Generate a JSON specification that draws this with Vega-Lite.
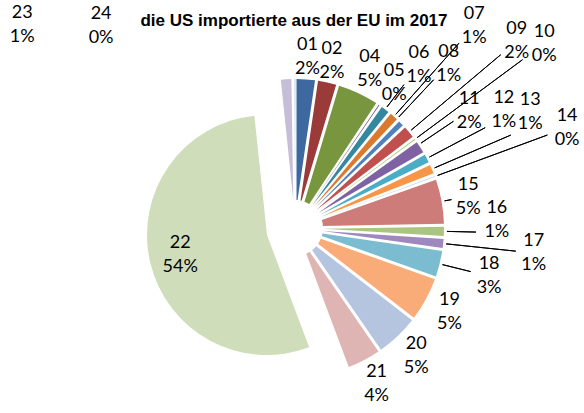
{
  "$schema": "https://vega.github.io/schema/vega-lite/v6.json",
  "width": 584,
  "height": 413,
  "autosize": "none",
  "padding": 0,
  "background": "white",
  "view": {"stroke": null},
  "config": {
    "text": {"font": "Lato", "fontSize": 18, "align": "center", "baseline": "middle", "color": "#000000"}
  },
  "title": {
    "text": "die US importierte aus der EU im 2017",
    "font": "Liberation Sans",
    "fontSize": 17,
    "fontWeight": "bold",
    "color": "#000000",
    "anchor": "middle",
    "frame": "group",
    "offset": -43,
    "baseline": "alphabetic",
    "dx": 2
  },
  "data": {
    "values": [
      {"code": 1, "share": 0.023},
      {"code": 2, "share": 0.023},
      {"code": 4, "share": 0.047},
      {"code": 5, "share": 0.004},
      {"code": 6, "share": 0.012},
      {"code": 7, "share": 0.012},
      {"code": 8, "share": 0.009},
      {"code": 9, "share": 0.016},
      {"code": 10, "share": 0.004},
      {"code": 11, "share": 0.016},
      {"code": 12, "share": 0.012},
      {"code": 13, "share": 0.013},
      {"code": 14, "share": 0.004},
      {"code": 15, "share": 0.051},
      {"code": 16, "share": 0.013},
      {"code": 17, "share": 0.013},
      {"code": 18, "share": 0.031},
      {"code": 19, "share": 0.050},
      {"code": 20, "share": 0.049},
      {"code": 21, "share": 0.039},
      {"code": 22, "share": 0.538},
      {"code": 23, "share": 0.0145},
      {"code": 24, "share": 0.0045}
    ]
  },
  "transform": [
    {"stack": "share", "groupby": [], "sort": [{"field": "code", "order": "ascending"}], "as": ["v0", "v1"]}
  ],
  "layer": [
    {
      "transform": [{"filter": "datum.code != 22"}],
      "mark": {"type": "arc", "outerRadius": 149, "innerRadius": 28, "padAngle": 0.02, "xOffset": 3, "yOffset": 21.5},
      "encoding": {
        "theta": {"field": "v0", "type": "quantitative", "stack": null, "scale": {"nice": false, "zero": true}},
        "theta2": {"field": "v1"},
        "color": {
          "field": "code", "type": "nominal", "legend": null,
          "scale": {
            "domain": [1, 2, 4, 5, 6, 7, 8, 9, 10, 11, 12, 13, 14, 15, 16, 17, 18, 19, 20, 21, 22, 23, 24],
            "range": ["#3D69A0", "#9A3B3A", "#78963E", "#624B7D", "#33879E", "#DB7A2E", "#4F81BD", "#C0504D", "#9BBB59", "#7F62A2", "#4BACC6", "#F79646", "#A7BFDE", "#CD7C7A", "#A9C580", "#9F88BE", "#7CBCD0", "#F9AC78", "#B5C5E0", "#DFB5B4", "#D0DDBB", "#C6BED7", "#B8DEE9"]
          }
        }
      }
    },
    {
      "transform": [{"filter": "datum.code == 22"}],
      "mark": {"type": "arc", "outerRadius": 120, "innerRadius": 0, "xOffset": -25, "yOffset": 28.5},
      "encoding": {
        "theta": {"field": "v0", "type": "quantitative", "stack": null},
        "theta2": {"field": "v1"},
        "color": {"field": "code", "type": "nominal", "legend": null}
      }
    },
    {
      "encoding": {
        "theta": {"field": "v0", "type": "quantitative", "stack": null},
        "theta2": {"field": "v1"}
      },
      "layer": [
        {"transform": [{"filter": {"field": "code", "oneOf": [15]}}],
         "mark": {"type": "arc", "innerRadius": 152, "outerRadius": 159, "padAngle": 3.1, "filled": false, "stroke": "#000000", "strokeWidth": 1, "xOffset": 3, "yOffset": 21.5}},
        {"transform": [{"filter": {"field": "code", "oneOf": [16, 18]}}],
         "mark": {"type": "arc", "innerRadius": 152, "outerRadius": 181, "padAngle": 3.1, "filled": false, "stroke": "#000000", "strokeWidth": 1, "xOffset": 3, "yOffset": 21.5}},
        {"transform": [{"filter": {"field": "code", "oneOf": [6]}}],
         "mark": {"type": "arc", "innerRadius": 152, "outerRadius": 180, "padAngle": 3.1, "filled": false, "stroke": "#000000", "strokeWidth": 1, "xOffset": 3, "yOffset": 21.5}},
        {"transform": [{"filter": {"field": "code", "oneOf": [11]}}],
         "mark": {"type": "arc", "innerRadius": 152, "outerRadius": 191, "padAngle": 3.1, "thetaOffset": -0.019, "theta2Offset": -0.019, "filled": false, "stroke": "#000000", "strokeWidth": 1, "xOffset": 3, "yOffset": 21.5}},
        {"transform": [{"filter": {"field": "code", "oneOf": [8]}}],
         "mark": {"type": "arc", "innerRadius": 152, "outerRadius": 203, "padAngle": 3.1, "thetaOffset": -0.04, "theta2Offset": -0.04, "filled": false, "stroke": "#000000", "strokeWidth": 1, "xOffset": 3, "yOffset": 21.5}},
        {"transform": [{"filter": {"field": "code", "oneOf": [12]}}],
         "mark": {"type": "arc", "innerRadius": 152, "outerRadius": 215, "padAngle": 3.1, "filled": false, "stroke": "#000000", "strokeWidth": 1, "xOffset": 3, "yOffset": 21.5}},
        {"transform": [{"filter": {"field": "code", "oneOf": [17]}}],
         "mark": {"type": "arc", "innerRadius": 152, "outerRadius": 222, "padAngle": 3.1, "filled": false, "stroke": "#000000", "strokeWidth": 1, "xOffset": 3, "yOffset": 21.5}},
        {"transform": [{"filter": {"field": "code", "oneOf": [13]}}],
         "mark": {"type": "arc", "innerRadius": 152, "outerRadius": 235, "padAngle": 3.1, "filled": false, "stroke": "#000000", "strokeWidth": 1, "xOffset": 3, "yOffset": 21.5}},
        {"transform": [{"filter": {"field": "code", "oneOf": [7]}}],
         "mark": {"type": "arc", "innerRadius": 152, "outerRadius": 247, "padAngle": 3.1, "filled": false, "stroke": "#000000", "strokeWidth": 1, "xOffset": 3, "yOffset": 21.5}},
        {"transform": [{"filter": {"field": "code", "oneOf": [9, 14]}}],
         "mark": {"type": "arc", "innerRadius": 152, "outerRadius": 269, "padAngle": 3.1, "filled": false, "stroke": "#000000", "strokeWidth": 1, "xOffset": 3, "yOffset": 21.5}},
        {"transform": [{"filter": {"field": "code", "oneOf": [10]}}],
         "mark": {"type": "arc", "innerRadius": 152, "outerRadius": 283, "padAngle": 3.1, "filled": false, "stroke": "#000000", "strokeWidth": 1, "xOffset": 3, "yOffset": 21.5}}
      ]
    },
    {
      "transform": [
        {"fold": ["v0", "v1"], "as": ["k", "vv"]},
        {"aggregate": [{"op": "mean", "field": "vv", "as": "mid"}, {"op": "max", "field": "share", "as": "share"}], "groupby": ["code"]}
      ],
      "encoding": {
        "theta": {"field": "mid", "type": "quantitative", "stack": null}
      },
      "layer": [
        {"transform": [{"filter": {"field": "code", "oneOf": [22]}}],
         "layer": [
           {"mark": {"type": "text", "radius": 118, "dy": -12, "xOffset": 3, "yOffset": 21.5}, "encoding": {"text": {"field": "code", "type": "quantitative", "format": "02d"}}},
           {"mark": {"type": "text", "radius": 118, "dy": 12, "xOffset": 3, "yOffset": 21.5}, "encoding": {"text": {"field": "share", "type": "quantitative", "format": ".0%"}}}
         ]},
        {"transform": [{"filter": {"field": "code", "oneOf": [1, 2]}}],
         "layer": [
           {"mark": {"type": "text", "radius": 171, "dy": -12, "xOffset": 3, "yOffset": 21.5}, "encoding": {"text": {"field": "code", "type": "quantitative", "format": "02d"}}},
           {"mark": {"type": "text", "radius": 171, "dy": 12, "xOffset": 3, "yOffset": 21.5}, "encoding": {"text": {"field": "share", "type": "quantitative", "format": ".0%"}}}
         ]},
        {"transform": [{"filter": {"field": "code", "oneOf": [4, 5, 15, 19, 20, 21]}}],
         "layer": [
           {"mark": {"type": "text", "radius": 176, "dy": -12, "xOffset": 3, "yOffset": 21.5}, "encoding": {"text": {"field": "code", "type": "quantitative", "format": "02d"}}},
           {"mark": {"type": "text", "radius": 176, "dy": 12, "xOffset": 3, "yOffset": 21.5}, "encoding": {"text": {"field": "share", "type": "quantitative", "format": ".0%"}}}
         ]},
        {"transform": [{"filter": {"field": "code", "oneOf": [18]}}],
         "layer": [
           {"mark": {"type": "text", "radius": 200, "dy": -12, "xOffset": 3, "yOffset": 21.5}, "encoding": {"text": {"field": "code", "type": "quantitative", "format": "02d"}}},
           {"mark": {"type": "text", "radius": 200, "dy": 12, "xOffset": 3, "yOffset": 21.5}, "encoding": {"text": {"field": "share", "type": "quantitative", "format": ".0%"}}}
         ]},
        {"transform": [{"filter": {"field": "code", "oneOf": [16]}}],
         "layer": [
           {"mark": {"type": "text", "radius": 202, "thetaOffset": -0.06, "dy": -12, "xOffset": 3, "yOffset": 21.5}, "encoding": {"text": {"field": "code", "type": "quantitative", "format": "02d"}}},
           {"mark": {"type": "text", "radius": 202, "thetaOffset": -0.06, "dy": 12, "xOffset": 3, "yOffset": 21.5}, "encoding": {"text": {"field": "share", "type": "quantitative", "format": ".0%"}}}
         ]},
        {"transform": [{"filter": {"field": "code", "oneOf": [6]}}],
         "layer": [
           {"mark": {"type": "text", "radius": 205, "dy": -12, "xOffset": 3, "yOffset": 21.5}, "encoding": {"text": {"field": "code", "type": "quantitative", "format": "02d"}}},
           {"mark": {"type": "text", "radius": 205, "dy": 12, "xOffset": 3, "yOffset": 21.5}, "encoding": {"text": {"field": "share", "type": "quantitative", "format": ".0%"}}}
         ]},
        {"transform": [{"filter": {"field": "code", "oneOf": [11]}}],
         "layer": [
           {"mark": {"type": "text", "radius": 210, "thetaOffset": -0.019, "dy": -12, "xOffset": 3, "yOffset": 21.5}, "encoding": {"text": {"field": "code", "type": "quantitative", "format": "02d"}}},
           {"mark": {"type": "text", "radius": 210, "thetaOffset": -0.019, "dy": 12, "xOffset": 3, "yOffset": 21.5}, "encoding": {"text": {"field": "share", "type": "quantitative", "format": ".0%"}}}
         ]},
        {"transform": [{"filter": {"field": "code", "oneOf": [8]}}],
         "layer": [
           {"mark": {"type": "text", "radius": 225, "thetaOffset": -0.04, "dy": -12, "xOffset": 3, "yOffset": 21.5}, "encoding": {"text": {"field": "code", "type": "quantitative", "format": "02d"}}},
           {"mark": {"type": "text", "radius": 225, "thetaOffset": -0.04, "dy": 12, "xOffset": 3, "yOffset": 21.5}, "encoding": {"text": {"field": "share", "type": "quantitative", "format": ".0%"}}}
         ]},
        {"transform": [{"filter": {"field": "code", "oneOf": [12]}}],
         "layer": [
           {"mark": {"type": "text", "radius": 240, "thetaOffset": -0.03, "dy": -12, "xOffset": 3, "yOffset": 21.5}, "encoding": {"text": {"field": "code", "type": "quantitative", "format": "02d"}}},
           {"mark": {"type": "text", "radius": 240, "thetaOffset": -0.03, "dy": 12, "xOffset": 3, "yOffset": 21.5}, "encoding": {"text": {"field": "share", "type": "quantitative", "format": ".0%"}}}
         ]},
        {"transform": [{"filter": {"field": "code", "oneOf": [17]}}],
         "layer": [
           {"mark": {"type": "text", "radius": 240, "dy": -12, "xOffset": 3, "yOffset": 21.5}, "encoding": {"text": {"field": "code", "type": "quantitative", "format": "02d"}}},
           {"mark": {"type": "text", "radius": 240, "dy": 12, "xOffset": 3, "yOffset": 21.5}, "encoding": {"text": {"field": "share", "type": "quantitative", "format": ".0%"}}}
         ]},
        {"transform": [{"filter": {"field": "code", "oneOf": [13]}}],
         "layer": [
           {"mark": {"type": "text", "radius": 262, "thetaOffset": -0.05, "dy": -12, "xOffset": 3, "yOffset": 21.5}, "encoding": {"text": {"field": "code", "type": "quantitative", "format": "02d"}}},
           {"mark": {"type": "text", "radius": 262, "thetaOffset": -0.05, "dy": 12, "xOffset": 3, "yOffset": 21.5}, "encoding": {"text": {"field": "share", "type": "quantitative", "format": ".0%"}}}
         ]},
        {"transform": [{"filter": {"field": "code", "oneOf": [7]}}],
         "layer": [
           {"mark": {"type": "text", "radius": 270, "dy": -12, "xOffset": 3, "yOffset": 21.5}, "encoding": {"text": {"field": "code", "type": "quantitative", "format": "02d"}}},
           {"mark": {"type": "text", "radius": 270, "dy": 12, "xOffset": 3, "yOffset": 21.5}, "encoding": {"text": {"field": "share", "type": "quantitative", "format": ".0%"}}}
         ]},
        {"transform": [{"filter": {"field": "code", "oneOf": [9, 14]}}],
         "layer": [
           {"mark": {"type": "text", "radius": 290, "dy": -12, "xOffset": 3, "yOffset": 21.5}, "encoding": {"text": {"field": "code", "type": "quantitative", "format": "02d"}}},
           {"mark": {"type": "text", "radius": 290, "dy": 12, "xOffset": 3, "yOffset": 21.5}, "encoding": {"text": {"field": "share", "type": "quantitative", "format": ".0%"}}}
         ]},
        {"transform": [{"filter": {"field": "code", "oneOf": [10]}}],
         "layer": [
           {"mark": {"type": "text", "radius": 310, "dy": -12, "xOffset": 3, "yOffset": 21.5}, "encoding": {"text": {"field": "code", "type": "quantitative", "format": "02d"}}},
           {"mark": {"type": "text", "radius": 310, "dy": 12, "xOffset": 3, "yOffset": 21.5}, "encoding": {"text": {"field": "share", "type": "quantitative", "format": ".0%"}}}
         ]},
        {"transform": [{"filter": {"field": "code", "oneOf": [23]}}],
         "layer": [
           {"mark": {"type": "text", "radius": 340, "thetaOffset": -0.871, "dy": -12, "xOffset": 3, "yOffset": 21.5}, "encoding": {"text": {"field": "code", "type": "quantitative", "format": "02d"}}},
           {"mark": {"type": "text", "radius": 340, "thetaOffset": -0.871, "dy": 12, "xOffset": 3, "yOffset": 21.5}, "encoding": {"text": {"field": "share", "type": "quantitative", "format": ".0%"}}}
         ]},
        {"transform": [{"filter": {"field": "code", "oneOf": [24]}}],
         "layer": [
           {"mark": {"type": "text", "radius": 280, "thetaOffset": -0.765, "dy": -12, "xOffset": 3, "yOffset": 21.5}, "encoding": {"text": {"field": "code", "type": "quantitative", "format": "02d"}}},
           {"mark": {"type": "text", "radius": 280, "thetaOffset": -0.765, "dy": 12, "xOffset": 3, "yOffset": 21.5}, "encoding": {"text": {"field": "share", "type": "quantitative", "format": ".0%"}}}
         ]}
      ]
    }
  ]
}
